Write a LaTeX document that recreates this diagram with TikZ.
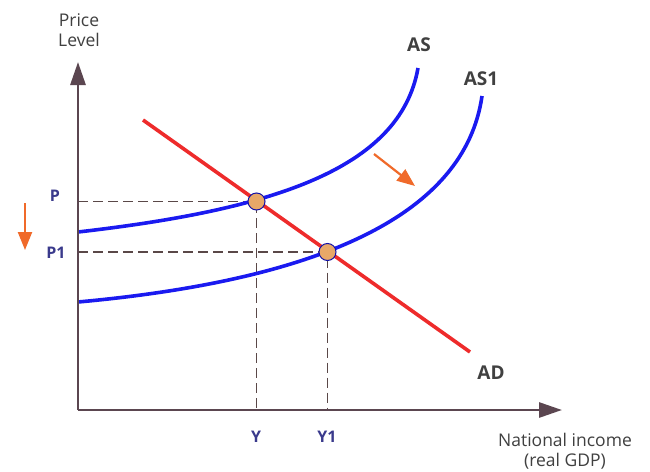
\documentclass[tikz,border=0pt]{standalone}
\usepackage{fontspec}
\setmainfont{Open Sans}
\usetikzlibrary{arrows.meta}
\definecolor{axiscol}{HTML}{5B4650}
\definecolor{curveblue}{HTML}{1A1AF0}
\definecolor{adred}{HTML}{EE2B2B}
\definecolor{navy}{HTML}{3A3A8C}
\definecolor{txtgray}{HTML}{404040}
\definecolor{shiftorange}{HTML}{F06A2A}
\definecolor{dotfill}{HTML}{E8A868}
\definecolor{dashcol}{HTML}{5A4848}
\tikzset{
  axisline/.style={draw=axiscol, line width=2.8pt, -{Triangle[length=23pt,width=15pt]}},
  guide/.style={draw=dashcol, line width=1.2pt, dash pattern=on 10pt off 5pt},
  supply/.style={draw=curveblue, line width=3.6pt},
  demand/.style={draw=adred, line width=3.6pt},
  shiftarrow/.style={draw=shiftorange, line width=2.2pt, -{Triangle[length=18pt,width=14pt]}},
  eqdot/.style={circle, fill=dotfill, draw=curveblue!70!black, line width=1pt, minimum size=17pt, inner sep=0pt},
  axtxt/.style={text=txtgray, font=\fontsize{17.5}{20.5}\selectfont, align=center, inner sep=0pt},
  curvelbl/.style={text=txtgray, font=\fontsize{19}{22}\selectfont\bfseries, inner sep=0pt},
  vallbl/.style={text=navy, font=\fontsize{16}{19}\selectfont\bfseries, inner sep=0pt},
}
\begin{document}
\begin{tikzpicture}[x=1pt,y=-1pt]
\useasboundingbox[fill=white] (0,0) rectangle (650,471);
% coordinates
\coordinate (O) at (78,410);
\coordinate (ytip) at (78,62);
\coordinate (xtip) at (562,410);
\coordinate (E1) at (256.5,201.5);
\coordinate (E2) at (327.5,252);
\coordinate (pax) at (78,201.5);
\coordinate (p1ax) at (78,252);
\coordinate (yax) at (256.5,410);
\coordinate (y1ax) at (327.5,410);
\coordinate (adA) at (143,120);
\coordinate (adB) at (470,352);
% guides
\draw[guide] (pax) -- (E1) -- (yax);
\draw[guide] (p1ax) -- (E2) -- (y1ax);
% curves
\draw[supply] (78,232) .. controls (270,210) and (400,170) .. (418,68);
\draw[supply] (78,302) .. controls (320,280) and (465,215) .. (482,96);
\draw[demand] (adA) -- (adB);
% axes
\draw[axisline] (O) -- (ytip);
\draw[axisline] (O) -- (xtip);
% equilibrium dots
\node[eqdot] (d1) at (E1) {};
\node[eqdot] (d2) at (E2) {};
% shift arrows
\coordinate (s1a) at (25,203);
\coordinate (s1b) at (25,250);
\draw[shiftarrow] (s1a) -- (s1b);
\coordinate (s2a) at (374,154);
\coordinate (s2b) at (415,186);
\draw[shiftarrow] (s2a) -- (s2b);
% labels
\node[axtxt] (plevel) at (79,30) {Price\\Level};
\node[axtxt] (natinc) at (565,451) {National income\\(real GDP)};
\node[curvelbl] (lAS) at (419,45) {AS};
\node[curvelbl] (lAS1) at (481,79) {AS1};
\node[curvelbl] (lAD) at (491,373) {AD};
\node[vallbl] (lP) at (55,196) {P};
\node[vallbl] (lP1) at (56,253) {P1};
\node[vallbl] (lY) at (256,437) {Y};
\node[vallbl] (lY1) at (327,437) {Y1};
\end{tikzpicture}
\end{document}
